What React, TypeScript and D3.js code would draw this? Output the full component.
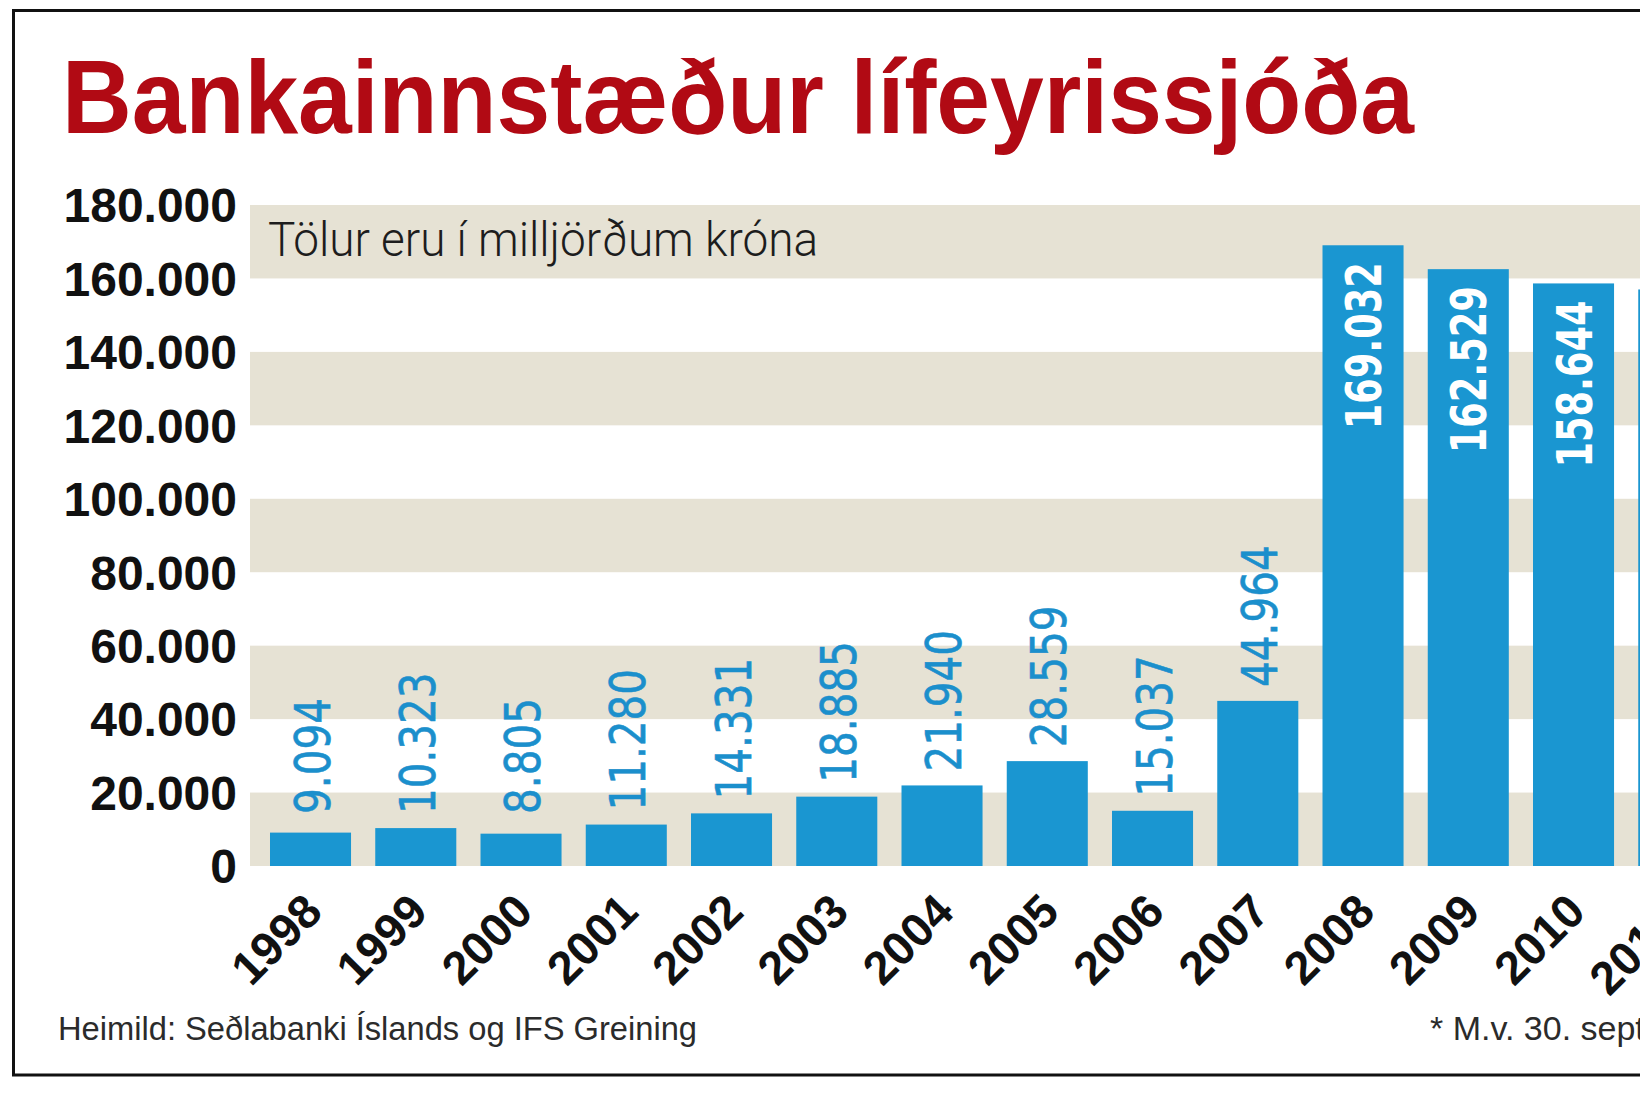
import React from 'react';
import * as d3 from 'd3';

const years = ['1998', '1999', '2000', '2001', '2002', '2003', '2004', '2005', '2006', '2007', '2008', '2009', '2010', '2011*'];
const values = [9094, 10323, 8805, 11280, 14331, 18885, 21940, 28559, 15037, 44964, 169032, 162529, 158644, 157000];
const yTicks = [0, 20000, 40000, 60000, 80000, 100000, 120000, 140000, 160000, 180000];
const titleText = 'Bankainnstæður lífeyrissjóða';
const subtitleText = 'Tölur eru í milljörðum króna';
const sourceText = 'Heimild: Seðlabanki Íslands og IFS Greining';
const noteText = '* M.v. 30. september 2011';

const W = 1640;
const H = 1093;
const plotLeft = 250;
const plotRight = 1739.3;
const plotTop = 205;
const plotBottom = 866;

const BAR = '#1a96d1';
const LABEL_BLUE = '#1b8fcc';
const BAND = '#e6e2d4';
const RED = '#b10a14';

const isLocale = d3.formatLocale({ decimal: ',', thousands: '.', grouping: [3], currency: ['', ''] });
const fmt = isLocale.format(',');

export default function App() {
  const x = d3.scaleBand<string>().domain(years).range([plotLeft, plotRight]).paddingInner(0.23).paddingOuter(0.19);
  const y = d3.scaleLinear().domain([0, 180000]).range([plotBottom, plotTop]);

  const labelLen = (s: string) => {
    const digits = s.replace(/[^0-9]/g, '').length;
    const dots = s.length - digits;
    return digits * 25.5 + dots * 14;
  };

  const bands = yTicks.slice(0, -1).filter((_, i) => i % 2 === 0);

  return (
    <div style={{ position: 'absolute', left: 0, top: 0, width: W, height: H, overflow: 'hidden', background: '#fff' }}>
      <svg width={W} height={H} style={{ display: 'block' }}>
        <rect x={0} y={0} width={W} height={H} fill="#fff" />
        {/* bands */}
        {bands.map((t) => (
          <rect key={'b' + t} x={plotLeft} y={y(t + 20000)} width={W - plotLeft} height={y(t) - y(t + 20000)} fill={BAND} />
        ))}
        {/* title */}
        <text x={62} y={133} fontFamily="'Liberation Sans', Arial, sans-serif" fontWeight={700} fontSize={104}
          fill={RED} textLength={1352} lengthAdjust="spacingAndGlyphs">{titleText}</text>
        {/* subtitle */}
        <text x={268} y={256} fontFamily="Roboto, 'Liberation Sans', sans-serif" fontWeight={300} fontSize={48}
          fill="#1d1d1d" textLength={550} lengthAdjust="spacingAndGlyphs">{subtitleText}</text>
        {/* y axis labels */}
        {yTicks.map((t) => (
          <text key={'y' + t} x={237} y={y(t)} dy="0.36em" textAnchor="end"
            fontFamily="'Liberation Sans', Arial, sans-serif" fontWeight={700} fontSize={48} fill="#111">{fmt(t)}</text>
        ))}
        {/* bars */}
        {years.map((yr, i) => (
          <rect key={'r' + yr} x={x(yr)} y={y(values[i])} width={x.bandwidth()} height={plotBottom - y(values[i])} fill={BAR} />
        ))}
        {/* value labels */}
        {years.map((yr, i) => {
          const cx = (x(yr) as number) + x.bandwidth() / 2;
          const top = y(values[i]);
          const s = fmt(values[i]);
          const inside = values[i] > 100000;
          if (inside) {
            const ty = top + 17;
            return (
              <text key={'v' + yr} x={cx} y={ty} transform={`rotate(-90 ${cx} ${ty})`} textAnchor="end" dy="0.36em"
                fontFamily="'DejaVu Sans', sans-serif" fontWeight={700} fontSize={50} fill="#fff"
                textLength={labelLen(s)} lengthAdjust="spacingAndGlyphs">{s}</text>
            );
          }
          const ty = Math.min(top - 14, 814);
          const lx = cx + 1;
          return (
            <text key={'v' + yr} x={lx} y={ty} transform={`rotate(-90 ${lx} ${ty})`} textAnchor="start" dy="0.36em"
              fontFamily="'DejaVu Sans', sans-serif" fontWeight={400} fontSize={50} fill={LABEL_BLUE}
              stroke={LABEL_BLUE} strokeWidth={0.6}
              textLength={labelLen(s)} lengthAdjust="spacingAndGlyphs">{s}</text>
          );
        })}
        {/* year labels */}
        {years.map((yr) => {
          const px = (x(yr) as number) + x.bandwidth() / 2 + 14;
          const py = plotBottom + 48;
          return (
            <text key={'x' + yr} x={px} y={py} transform={`rotate(-45 ${px} ${py})`} textAnchor="end"
              fontFamily="'Liberation Sans', Arial, sans-serif" fontWeight={700} fontSize={47} fill="#111"
              textLength={yr.length === 4 ? 104 : 118} lengthAdjust="spacingAndGlyphs">{yr}</text>
          );
        })}
        {/* footer */}
        <text x={58} y={1040} fontFamily="'Liberation Sans', Arial, sans-serif" fontSize={34} fill="#2b2b2b"
          textLength={639} lengthAdjust="spacingAndGlyphs">{sourceText}</text>
        <text x={1430} y={1040} fontFamily="'Liberation Sans', Arial, sans-serif" fontSize={34} fill="#2b2b2b">{noteText}</text>
        {/* border */}
        <rect x={13.5} y={10.5} width={1700} height={1064.5} fill="none" stroke="#111" strokeWidth={3} />
      </svg>
    </div>
  );
}
